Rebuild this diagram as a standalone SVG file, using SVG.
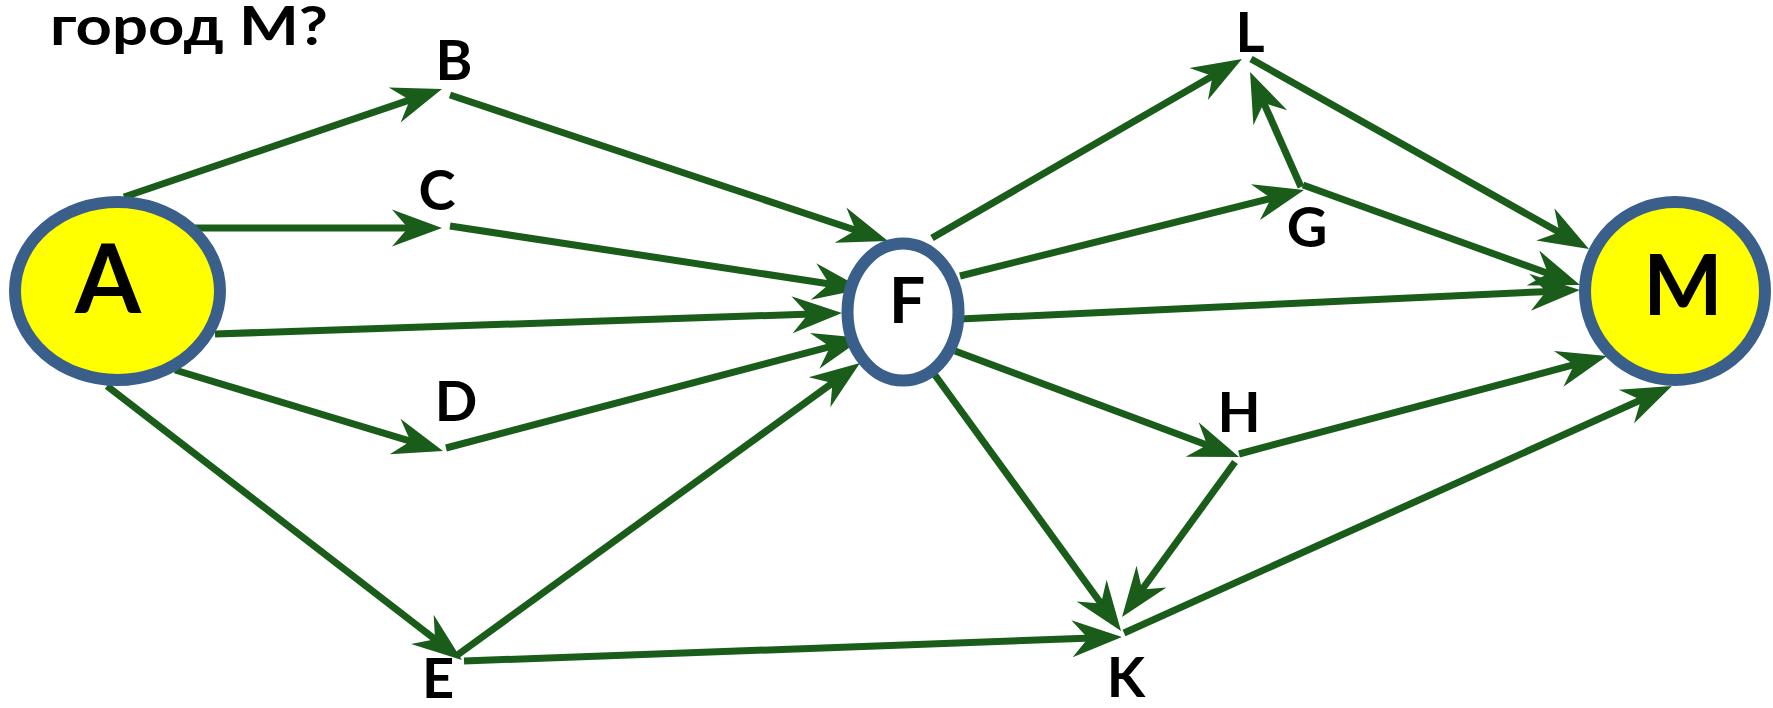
<svg xmlns="http://www.w3.org/2000/svg" width="1773" height="708" viewBox="0 0 1773 708">
<defs>
<style>
.e{stroke:#1a5c1a;stroke-width:7;fill:none}
.n{stroke:#3a5f8b;stroke-width:12}
.t{font-family:Lato,"Open Sans","Liberation Sans",sans-serif;font-weight:bold;fill:#000;text-anchor:middle}
.lbl{font-size:56px}
</style>
<marker id="ah" markerUnits="userSpaceOnUse" orient="auto" markerWidth="60" markerHeight="40" viewBox="-20 -20 60 40" refX="0" refY="0" overflow="visible">
<path d="M30,0 L-20,-18.5 L-4,0 L-20,18.5 Z" fill="#1a5c1a"/>
</marker>
</defs>
<rect width="1773" height="708" fill="#fff"/>
<text class="t" x="50" y="45" font-size="53" style="text-anchor:start" textLength="278" lengthAdjust="spacingAndGlyphs">город М?</text>
<g id="connectors">
<line class="e" x1="124" y1="197" x2="413.6" y2="98.6" marker-end="url(#ah)"/>
<line class="e" x1="195" y1="228" x2="412" y2="228" marker-end="url(#ah)"/>
<line class="e" x1="450" y1="95" x2="859.5" y2="231.5" marker-end="url(#ah)"/>
<line class="e" x1="450" y1="226" x2="833.3" y2="284.5" marker-end="url(#ah)"/>
<line class="e" x1="215" y1="334" x2="812" y2="314" marker-end="url(#ah)"/>
<line class="e" x1="175" y1="370" x2="414.3" y2="442.3" marker-end="url(#ah)"/>
<line class="e" x1="446" y1="448" x2="834" y2="345.7" marker-end="url(#ah)"/>
<line class="e" x1="107" y1="386" x2="438.2" y2="641.7" marker-end="url(#ah)"/>
<line class="e" x1="456" y1="656" x2="835.7" y2="380.6" marker-end="url(#ah)"/>
<line class="e" x1="464" y1="661" x2="1092" y2="638.1" marker-end="url(#ah)"/>
<line class="e" x1="932" y1="371" x2="1103.4" y2="606.7" marker-end="url(#ah)"/>
<line class="e" x1="1235" y1="462" x2="1139.7" y2="592.8" marker-end="url(#ah)"/>
<line class="e" x1="1124" y1="633" x2="1644.6" y2="398.3" marker-end="url(#ah)"/>
<line class="e" x1="955" y1="351" x2="1210.9" y2="446.5" marker-end="url(#ah)"/>
<line class="e" x1="1239" y1="454" x2="1578" y2="363.7" marker-end="url(#ah)"/>
<line class="e" x1="960" y1="319" x2="1550" y2="291.4" marker-end="url(#ah)"/>
<line class="e" x1="960" y1="276" x2="1274.9" y2="197.3" marker-end="url(#ah)"/>
<line class="e" x1="1303" y1="185" x2="1551.8" y2="274.8" marker-end="url(#ah)"/>
<line class="e" x1="1301" y1="187" x2="1262.2" y2="99.4" marker-end="url(#ah)"/>
<line class="e" x1="932" y1="238" x2="1216" y2="74" marker-end="url(#ah)"/>
<line class="e" x1="1251" y1="59" x2="1562.8" y2="234.3" marker-end="url(#ah)"/>
</g>
<g id="node-A">
<ellipse class="n" cx="117.5" cy="291" rx="102.5" ry="89" fill="#ffff00"/>
<text class="t" x="108" y="313" font-size="95">A</text>
</g>
<g id="node-F">
<ellipse class="n" cx="903" cy="312" rx="55.5" ry="68.5" fill="#ffffff"/>
<text class="t" x="907" y="323" font-size="64">F</text>
</g>
<g id="node-M">
<ellipse class="n" cx="1675" cy="291" rx="90" ry="89" fill="#ffff00"/>
<text class="t" x="1683" y="315" font-size="84">M</text>
</g>
<g id="node-B"><text class="t lbl" x="454" y="80">B</text></g>
<g id="node-C"><text class="t lbl" x="437" y="210">C</text></g>
<g id="node-D"><text class="t lbl" x="456" y="421">D</text></g>
<g id="node-E"><text class="t lbl" x="438" y="698">E</text></g>
<g id="node-G"><text class="t lbl" x="1307" y="247">G</text></g>
<g id="node-H"><text class="t lbl" x="1239" y="432">H</text></g>
<g id="node-K"><text class="t lbl" x="1126" y="697">K</text></g>
<g id="node-L"><text class="t lbl" x="1250" y="52">L</text></g>
</svg>
